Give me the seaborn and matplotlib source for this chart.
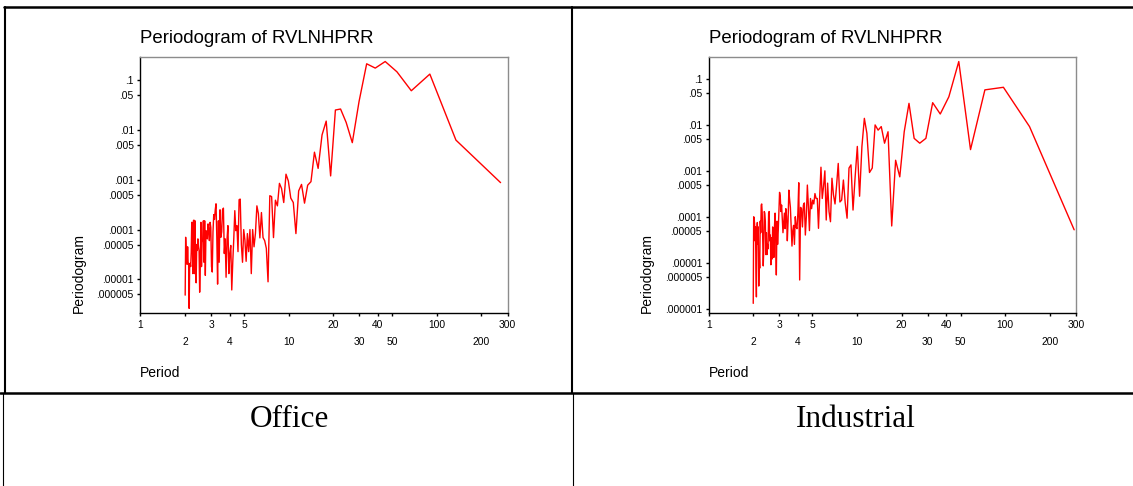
import numpy as np
import pandas as pd
import matplotlib
matplotlib.use("Agg")
import matplotlib.pyplot as plt
import seaborn as sns
from matplotlib.lines import Line2D
from matplotlib.ticker import FixedLocator, FixedFormatter, NullLocator

# --- data (value per harmonic k = 1, 2, ...) ---
OFFICE_N = 269
INDUSTRIAL_N = 292

office_pgram = [
    8.8e-4, 6.3e-3, 0.134, 0.062, 0.149, 0.24, 0.177, 0.216, 0.038, 5.6e-3,
    0.0143, 0.0266, 0.0254, 1.2e-3, 0.0152, 8.0e-3, 1.7e-3, 3.6e-3, 9.2e-4, 7.8e-4,
    3.4e-4, 8.1e-4, 6.0e-4, 8.3e-5, 3.5e-4, 4.3e-4, 9.5e-4, 1.3e-3, 3.5e-4, 6.7e-4,
    8.5e-4, 3.0e-4, 3.9e-4, 6.9e-5, 4.6e-4, 4.8e-4, 8.9e-6, 4.2e-5, 6.0e-5, 6.9e-5,
    2.2e-4, 6.8e-5, 2.1e-4, 3.0e-4, 8.4e-5, 4.5e-5, 1.0e-4, 1.3e-5, 1.0e-4, 3.6e-5,
    8.3e-5, 2.3e-5, 6.2e-5, 1.0e-4, 2.2e-5, 5.0e-5, 4.1e-4, 4.0e-4, 3.6e-5, 1.2e-4,
    9.5e-5, 2.4e-4, 6.5e-5, 2.2e-5, 6.1e-6, 4.8e-5, 3.3e-5, 1.3e-5, 1.2e-4, 6.2e-5,
    1.1e-5, 6.5e-5, 3.3e-5, 2.7e-4, 2.5e-4, 9.0e-5, 7.0e-5, 2.5e-4, 2.2e-5, 1.5e-4,
    8.0e-6, 7.0e-5, 3.3e-4, 2.5e-4, 1.6e-4, 2.0e-4, 9.0e-5, 1.4e-5, 1.8e-5, 1.1e-4,
    1.4e-4, 6.0e-5, 1.0e-4, 1.3e-4, 6.5e-5, 7.0e-5, 9.5e-5, 1.2e-5, 1.5e-4, 2.2e-5,
    1.5e-4, 6.5e-5, 5.5e-5, 1.8e-5, 1.4e-4, 1.8e-5, 5.5e-6, 3.8e-5, 4.5e-5, 6.5e-5,
    3.8e-5, 5.0e-5, 8.5e-6, 2.0e-5, 1.5e-4, 1.3e-5, 1.55e-4, 1.5e-4, 1.3e-5, 9.0e-5,
    1.4e-4, 3.5e-5, 1.8e-5, 2.1e-5, 1.8e-5, 2.6e-6, 2.0e-5, 2.2e-5, 4.5e-5, 2.0e-5,
    2.2e-5, 3.5e-5, 7.0e-5, 4.8e-6,
]

industrial_pgram = [
    5.2e-5, 9.2e-3, 0.066, 0.058, 2.9e-3, 0.24, 0.041, 0.0173, 0.0305, 5.1e-3,
    4.0e-3, 5.1e-3, 0.0295, 7.1e-3, 7.4e-4, 1.7e-3, 6.3e-5, 7.1e-3, 4.0e-3, 9.2e-3,
    7.7e-3, 1.0e-2, 1.15e-3, 9.2e-4, 6.6e-3, 0.0139, 3.4e-3, 2.8e-4, 3.4e-3, 7.4e-4,
    1.4e-4, 1.35e-3, 1.15e-3, 9.3e-5, 2.0e-4, 6.3e-4, 2.3e-4, 2.1e-4, 1.45e-3, 4.9e-4,
    1.9e-4, 3.0e-4, 6.9e-4, 7.8e-5, 1.3e-4, 5.4e-4, 8.5e-5, 1.0e-3, 4.6e-4, 2.5e-4,
    1.2e-3, 2.8e-4, 5.6e-5, 2.5e-4, 2.5e-4, 3.2e-4, 1.9e-4, 2.3e-4,
    1.5e-4, 2.5e-4, 5.0e-5, 1.7e-4, 4.9e-4, 1.0e-4, 4.0e-5, 2.0e-4, 1.8e-4, 6.0e-5,
    1.5e-4, 1.6e-4, 4.2e-6, 5.5e-4, 1.2e-4, 5.5e-5, 6.0e-5, 1.0e-4, 2.5e-5, 6.5e-5,
    5.0e-5, 2.3e-5, 6.5e-5, 1.6e-4, 2.4e-4, 3.8e-4, 8.0e-5, 3.0e-5, 1.0e-4, 1.5e-4,
    5.5e-5, 1.2e-4, 7.5e-5, 4.5e-5, 9.0e-5, 1.8e-4, 1.3e-4, 2.8e-4, 3.4e-4, 1.2e-4,
    5.0e-5, 2.5e-5, 8.0e-5, 5.4e-6, 3.0e-5, 1.2e-4, 6.0e-5, 1.3e-5, 4.5e-5, 6.0e-5,
    1.2e-5, 3.5e-5, 9.0e-6, 4.0e-5, 3.0e-5, 1.3e-4, 1.2e-4, 2.0e-5, 2.5e-5, 1.5e-5,
    4.5e-5, 1.5e-5, 8.0e-5, 1.2e-4, 1.3e-4, 2.0e-5, 8.5e-6, 3.5e-5, 1.2e-4, 1.9e-4,
    1.8e-4, 4.5e-5, 8.0e-5, 7.6e-6, 1.5e-5, 3.1e-6, 6.0e-5, 2.5e-5, 7.5e-5, 5.0e-5,
    1.8e-6, 8.0e-6, 6.0e-5, 3.0e-5, 7.0e-5, 9.5e-5, 1.0e-4, 1.3e-6,
]

panel_names = ["Office", "Industrial"]

x_major = [1, 3, 5, 20, 40, 100, 300]
x_minor = [2, 4, 10, 30, 50, 200]

office_yticks = [1e-1, 5e-2, 1e-2, 5e-3, 1e-3, 5e-4, 1e-4, 5e-5, 1e-5, 5e-6]
office_ylabels = [".1", ".05", ".01", ".005", ".001", ".0005", ".0001",
                  ".00005", ".00001", ".000005"]
industrial_yticks = office_yticks + [1e-6]
industrial_ylabels = office_ylabels + [".000001"]


def to_frame(values, n_obs):
    harmonic = np.arange(1, len(values) + 1)
    return pd.DataFrame({"Period": n_obs / harmonic, "Periodogram": values})


sns.set_style("white")
plt.rcParams["font.family"] = ["Liberation Sans", "DejaVu Sans"]
plt.rcParams.update({
    "text.color": "black",
    "axes.labelcolor": "black",
    "xtick.color": "black",
    "ytick.color": "black",
})

W, H = 1133, 486
fig = plt.figure(figsize=(W / 100, H / 100), dpi=100)


def draw_panel(left_px, df, yticks, ylabels, ylim):
    ax = fig.add_axes([left_px / W, 1 - 313.3 / H, 367.3 / W, 256.6 / H])
    sns.lineplot(data=df, x="Period", y="Periodogram", ax=ax,
                 color="#FF0000", linewidth=1.0, estimator=None, sort=False)
    ax.set_xscale("log")
    ax.set_yscale("log")
    ax.set_xlim(1, 300)
    ax.set_ylim(*ylim)

    ax.xaxis.set_major_locator(FixedLocator(x_major))
    ax.xaxis.set_major_formatter(FixedFormatter([str(v) for v in x_major]))
    ax.xaxis.set_minor_locator(FixedLocator(x_minor))
    ax.xaxis.set_minor_formatter(FixedFormatter([str(v) for v in x_minor]))
    ax.tick_params(axis="x", which="major", length=2.5, width=1, pad=2.4,
                   labelsize=7.4, bottom=True, direction="out")
    ax.tick_params(axis="x", which="minor", length=2.5, width=1, pad=14.4,
                   labelsize=7.4, bottom=True, direction="out")

    ax.yaxis.set_major_locator(FixedLocator(yticks))
    ax.yaxis.set_major_formatter(FixedFormatter(ylabels))
    ax.yaxis.set_minor_locator(NullLocator())
    ax.tick_params(axis="y", length=2, width=1, pad=2.7, labelsize=7.4,
                   left=True, direction="out")

    for side in ["left", "bottom"]:
        ax.spines[side].set_color("black")
        ax.spines[side].set_linewidth(1.0)
    for side in ["top", "right"]:
        ax.spines[side].set_color("#8c8c8c")
        ax.spines[side].set_linewidth(1.0)

    ax.set_title("Periodogram of RVLNHPRR", loc="left", fontsize=13.4, pad=10,
                 color="black")
    ax.set_xlabel("Period", loc="left", fontsize=10)
    ax.xaxis.set_label_coords(0, -0.205)
    ax.set_ylabel("Periodogram", loc="bottom", fontsize=10)
    ax.yaxis.set_label_coords(-0.148, 0)
    return ax


draw_panel(140.3, to_frame(office_pgram, OFFICE_N),
           office_yticks, office_ylabels, (2.07e-6, 0.30))
draw_panel(708.6, to_frame(industrial_pgram, INDUSTRIAL_N),
           industrial_yticks, industrial_ylabels, (7.9e-7, 0.306))


# table frame around the two charts
def hline(y, x0, x1, lw):
    fig.add_artist(Line2D([x0 / W, x1 / W], [1 - y / H, 1 - y / H],
                          color="black", linewidth=lw))


def vline(x, y0, y1, lw):
    fig.add_artist(Line2D([x / W, x / W], [1 - y0 / H, 1 - y1 / H],
                          color="black", linewidth=lw))


hline(7.5, 4, W, 1.8)
hline(393, 0, W, 1.8)
vline(5, 7, 393, 1.5)
vline(572, 7, 393, 1.5)
vline(3, 393, H, 0.8)
vline(573, 393, H, 0.8)

for name, cx in zip(panel_names, [289, 856]):
    fig.text(cx / W, 1 - 419 / H, name, ha="center", va="center",
             fontsize=22.5, color="black",
             family=["Liberation Serif", "DejaVu Serif"])

fig.savefig("out.png", dpi=100, facecolor="white")
